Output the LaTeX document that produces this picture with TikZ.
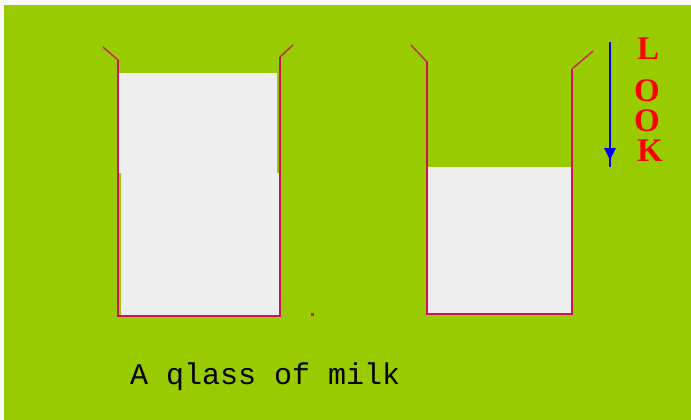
\documentclass[tikz,border=0pt]{standalone}
\usepackage{fontspec}
\newfontfamily\lookfont{Liberation Serif}
\newfontfamily\capfont{Liberation Mono}
\usetikzlibrary{arrows.meta}
\definecolor{bggreen}{HTML}{99CC00}
\definecolor{milk}{HTML}{EEEEEE}
\definecolor{glassline}{HTML}{D0105A}
\definecolor{rimline}{HTML}{C03050}
\definecolor{lookred}{HTML}{FF0000}
\definecolor{arrowblue}{HTML}{0000FF}
\tikzset{
  wall/.style={draw=glassline, line width=1.8pt, line join=miter},
  rim/.style={draw=rimline, line width=1.5pt},
  milkfill/.style={fill=milk, draw=none},
  lookletter/.style={text=lookred, font=\lookfont\bfseries\fontsize{33}{33}\selectfont, inner sep=0pt},
}
\begin{document}
\begin{tikzpicture}[x=1pt,y=-1pt]
\useasboundingbox (0,0) rectangle (691,420);
\fill[white!96!gray] (0,0) rectangle (691,420);
\fill[bggreen] (4,5) rectangle (691,420);
% left glass milk
\fill[milkfill] (119,73) rectangle (277,173);
\fill[milkfill] (121,173) rectangle (280,315);
% left glass walls
\draw[wall] (118,60) -- (118,316) -- (280,316) -- (280,57);
\draw[rim] (103,47) -- (118,60);
\draw[rim] (280,57) -- (293,45);
% right glass milk
\fill[milkfill] (428,167) rectangle (571,314);
% right glass walls
\draw[wall] (427,62) -- (427,314) -- (572,314) -- (572,69);
\draw[rim] (411,45) -- (427,62);
\draw[rim] (572,69) -- (593,51);
% stray dot
\fill[glassline] (311,313) rectangle (314,316);
% arrow
\coordinate (arrtop) at (610,42);
\coordinate (arrmid) at (610,160);
\coordinate (arrbot) at (610,167);
\draw[arrowblue, line width=2.6pt] (arrtop) -- (arrbot);
\draw[arrowblue, line width=2.6pt, -{Triangle[length=12pt,width=11pt]}] (arrtop) -- (arrmid);
% LOOK
\node[lookletter] (l1) at (648,49) {L};
\node[lookletter] (l2) at (647,91) {O};
\node[lookletter] (l3) at (647,121) {O};
\node[lookletter] (l4) at (650,151) {K};
% caption
\node[anchor=west, inner sep=0pt, font=\capfont\fontsize{30}{30}\selectfont] (caption) at (130,377) {A qlass of milk};
\end{tikzpicture}
\end{document}
